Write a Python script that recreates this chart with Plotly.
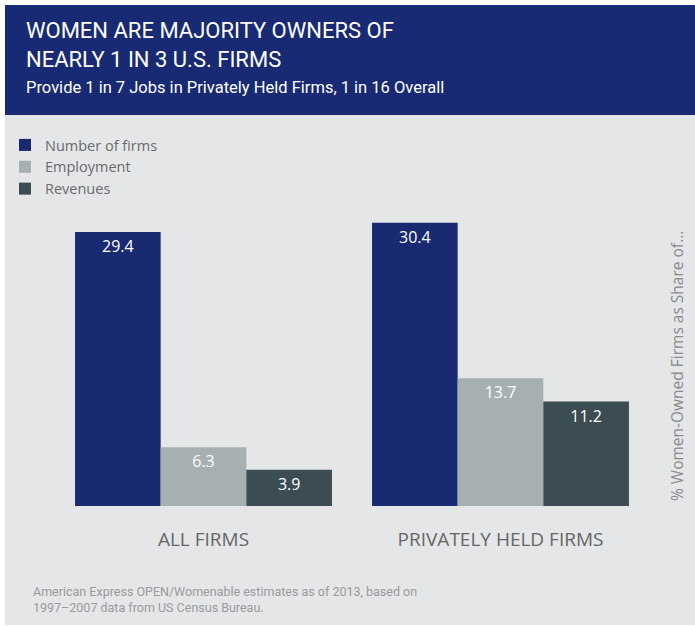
import plotly.graph_objects as go

categories = ["ALL FIRMS", "PRIVATELY HELD FIRMS"]
series_names = ["Number of firms", "Employment", "Revenues"]
number_of_firms = [29.4, 30.4]
employment = [6.3, 13.7]
revenues = [3.9, 11.2]
series_values = [number_of_firms, employment, revenues]
colors = ["#192a73", "#a6b0b0", "#3c4c53"]

W, H = 695, 626
B = 120                     # baseline at 506 px
BASE = H - B
PX_PER_UNIT = 9.32
CAT0_PX, CAT_STEP = 203.5, 297.0
YTOP = BASE / PX_PER_UNIT


def px_x(p):
    return p / W


def px_y(p):
    return (BASE - p) / BASE


fig = go.Figure()
for name, vals, c in zip(series_names, series_values, colors):
    fig.add_trace(go.Bar(
        x=categories, y=vals, name=name, marker=dict(color=c, line=dict(width=0)),
        texttemplate="%{y:.1f}", textposition="inside", insidetextanchor="end",
        textangle=0, textfont=dict(color="white", size=16, family="Open Sans"),
        cliponaxis=False,
    ))

head_font = "Roboto"

fig.update_layout(
    width=W, height=H, margin=dict(l=0, r=0, t=0, b=B, autoexpand=False),
    paper_bgcolor="white", plot_bgcolor="rgba(0,0,0,0)",
    barmode="group", bargap=0.135, bargroupgap=0,
    showlegend=True,
    legend=dict(x=px_x(5), y=px_y(129), xanchor="left", yanchor="top",
                bgcolor="rgba(0,0,0,0)", font=dict(size=14.5, color="#6b6b6b", family="Open Sans"),
                itemsizing="constant", tracegroupgap=0),
    xaxis=dict(showgrid=False, zeroline=False, showline=False, ticks="outside", ticklen=16,
               range=[-CAT0_PX / CAT_STEP, (W - CAT0_PX) / CAT_STEP],
               tickcolor="rgba(0,0,0,0)", tickfont=dict(size=19, color="#666666", family="Open Sans")),
    yaxis=dict(range=[0, YTOP], visible=False),
    shapes=[
        dict(type="rect", xref="paper", yref="paper", x0=px_x(5), x1=px_x(695), y0=px_y(625), y1=px_y(115),
             fillcolor="#e5e6e8", line=dict(width=0), layer="below"),
        dict(type="rect", xref="paper", yref="paper", x0=px_x(5), x1=px_x(695), y0=px_y(115), y1=px_y(5),
             fillcolor="#182a73", line=dict(width=0), layer="below"),
    ],
    annotations=[
        dict(text="WOMEN ARE MAJORITY OWNERS OF<br>NEARLY 1 IN 3 U.S. FIRMS", xref="paper", yref="paper",
             x=px_x(24), y=px_y(16), xanchor="left", yanchor="top", showarrow=False, align="left",
             font=dict(size=22, color="white", family=head_font)),
        dict(text="Provide 1 in 7 Jobs in Privately Held Firms, 1 in 16 Overall", xref="paper", yref="paper",
             x=px_x(24), y=px_y(76), xanchor="left", yanchor="top", showarrow=False, align="left",
             font=dict(size=16.5, color="white", family=head_font)),
        dict(text="% Women-Owned Firms as Share of...", xref="paper", yref="paper",
             x=px_x(677), y=px_y(366), xanchor="center", yanchor="middle", showarrow=False, textangle=-90,
             font=dict(size=15.5, color="#8a8a8a", family="Open Sans")),
        dict(text="American Express OPEN/Womenable estimates as of 2013, based on<br>1997\u20132007 data from US Census Bureau.",
             xref="paper", yref="paper", x=px_x(31), y=px_y(582), xanchor="left", yanchor="top",
             showarrow=False, align="left",
             font=dict(size=12.5, color="#9a9a9a", family=head_font)),
    ],
)

fig.write_html("out.html", post_script="document.body.style.margin='0';",
               config={"displayModeBar": False})
